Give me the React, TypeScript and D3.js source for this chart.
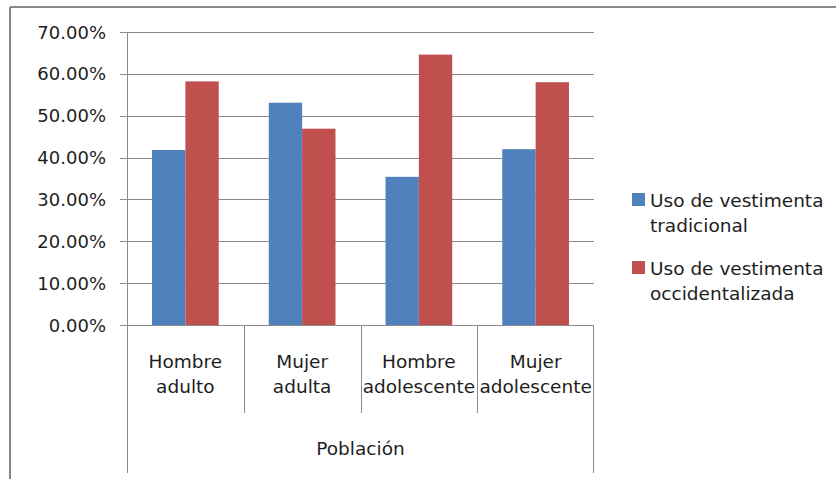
import { useEffect, useRef } from 'react';
import * as d3 from 'd3';

const categories = ['Hombre adulto', 'Mujer adulta', 'Hombre adolescente', 'Mujer adolescente'];
const seriesNames = ['Uso de vestimenta tradicional', 'Uso de vestimenta occidentalizada'];
const tradicional = [0.418, 0.531, 0.354, 0.42];
const occidentalizada = [0.582, 0.469, 0.646, 0.58];
const yTicks = [0, 0.1, 0.2, 0.3, 0.4, 0.5, 0.6, 0.7];
const axisTitle = 'Población';
const legendLines = [
  ['Uso de vestimenta', 'tradicional'],
  ['Uso de vestimenta', 'occidentalizada'],
];

const colors = ['#4F81BD', '#C0504D'];
const width = 836;
const height = 479;
const font = '"DejaVu Sans", sans-serif';

export default function App() {
  const svgRef = useRef<SVGSVGElement>(null);

  useEffect(() => {
    if (!svgRef.current) return;
    const svg = d3.select(svgRef.current);
    svg.selectAll('*').remove();

    const left = 127;
    const right = 594;
    const top = 32;
    const bottom = 325;
    const grid = '#8a8a8a';

    // outer frame (only top and left visible in the crop)
    svg.append('line').attr('x1', 10).attr('x2', width).attr('y1', 7).attr('y2', 7)
      .attr('stroke', '#888').attr('stroke-width', 2);
    svg.append('line').attr('x1', 10).attr('x2', 10).attr('y1', 7).attr('y2', height)
      .attr('stroke', '#888').attr('stroke-width', 2);

    const x = d3.scaleBand<string>().domain(categories).range([left, right]).padding(0);
    const y = d3.scaleLinear().domain([0, 0.7]).range([bottom, top]);

    // gridlines + ticks
    yTicks.forEach(t => {
      svg.append('line')
        .attr('x1', left - 7).attr('x2', right)
        .attr('y1', Math.round(y(t)) + 0.5).attr('y2', Math.round(y(t)) + 0.5)
        .attr('stroke', grid).attr('stroke-width', 1);
      svg.append('text')
        .attr('x', 106).attr('y', y(t) + 6.5)
        .attr('text-anchor', 'end')
        .attr('font-family', font).attr('font-size', 18)
        .attr('fill', '#1e1e1e')
        .text(d3.format('.2%')(t));
    });

    // bars
    const bw = x.bandwidth() / 3.5;
    const data = [tradicional, occidentalizada];
    data.forEach((vals, s) => {
      categories.forEach((c, i) => {
        const x0 = (x(c) ?? 0) + bw * 0.75 + s * bw;
        svg.append('rect')
          .attr('x', x0).attr('width', bw)
          .attr('y', y(vals[i])).attr('height', y(0) - y(vals[i]))
          .attr('fill', colors[s]);
      });
    });

    // axes
    svg.append('line').attr('x1', left + 0.5).attr('x2', left + 0.5).attr('y1', top).attr('y2', 473)
      .attr('stroke', grid);
    svg.append('line').attr('x1', left).attr('x2', right).attr('y1', bottom + 0.5).attr('y2', bottom + 0.5)
      .attr('stroke', grid);
    categories.forEach((c, i) => {
      if (i === 0) return;
      const xs = Math.round(x(c) ?? 0) + 0.5;
      svg.append('line').attr('x1', xs).attr('x2', xs).attr('y1', bottom).attr('y2', 413)
        .attr('stroke', grid);
    });
    svg.append('line').attr('x1', right - 0.5).attr('x2', right - 0.5).attr('y1', bottom).attr('y2', 473)
      .attr('stroke', grid);

    // category labels
    categories.forEach(c => {
      const cx = (x(c) ?? 0) + x.bandwidth() / 2;
      const words = c.split(' ');
      words.forEach((w, j) => {
        svg.append('text')
          .attr('x', cx).attr('y', 368 + j * 25)
          .attr('text-anchor', 'middle')
          .attr('font-family', font).attr('font-size', 18.5)
          .attr('fill', '#1e1e1e')
          .text(w);
      });
    });

    svg.append('text')
      .attr('x', (left + right) / 2).attr('y', 455)
      .attr('text-anchor', 'middle')
      .attr('font-family', font).attr('font-size', 18.5)
      .attr('fill', '#1e1e1e')
      .text(axisTitle);

    // legend
    seriesNames.forEach((name, s) => {
      const ly = 193 + s * 68;
      const g = svg.append('g').attr('aria-label', name);
      g.append('rect').attr('x', 632).attr('y', ly).attr('width', 13).attr('height', 13)
        .attr('fill', colors[s]);
      legendLines[s].forEach((ln, j) => {
        g.append('text')
          .attr('x', 650).attr('y', ly + 14 + j * 25)
          .attr('font-family', font).attr('font-size', 18.5)
          .attr('fill', '#1e1e1e')
          .text(ln);
      });
    });
  }, []);

  return (
    <svg
      ref={svgRef}
      width={width}
      height={height}
      style={{ position: 'absolute', left: 0, top: 0, background: '#fff' }}
    />
  );
}
